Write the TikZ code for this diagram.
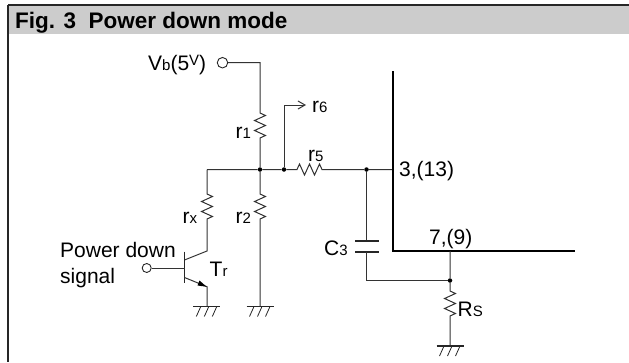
\documentclass[tikz,border=0pt]{standalone}
\usepackage{fontspec}
\setmainfont{Liberation Sans}
\usetikzlibrary{arrows.meta}
\tikzset{
  wire/.style={line width=1pt,draw=black!80},
  heavy/.style={line width=2.3pt,draw=black},
  dotn/.style={circle,fill=black,inner sep=0pt,minimum size=4.5pt},
  term/.style={circle,draw=black!85,fill=white,line width=0.9pt,inner sep=0pt},
  lab/.style={inner sep=0pt,font=\fontsize{21}{25}\selectfont},
}
\newcommand{\sm}[1]{{\fontsize{15}{17}\selectfont #1}}
\newcommand{\gnd}[1]{%
  \draw[line width=1.1pt,black!85] ([xshift=-13.5pt]#1) -- ([xshift=13.5pt]#1);
  \foreach \k in {-6,2,10}{\draw[line width=0.8pt,black!85] ([xshift=\k pt]#1) -- ([xshift=\k pt-4.5pt,yshift=-10pt]#1);}
}
\begin{document}
\begin{tikzpicture}[x=1pt,y=-1pt]
\useasboundingbox (0,0) rectangle (629,362);
\fill[white] (0,0) rectangle (629,362);
\fill[black!20] (8,5) rectangle (629,34);
\draw[line width=1.6pt,black!85] (8,5) -- (629,5);
\draw[line width=1.6pt,black!85] (8,5) -- (8,362);
\node[anchor=base west,inner sep=0pt,font=\fontsize{22.5}{26}\selectfont\bfseries] (title) at (15,28) {Fig. 3\hspace{0.278em} Power down mode};
% coordinates
\coordinate (vbw) at (260,62.7);
\node[term,minimum size=10.5pt] (vb) at (222.5,62.7) {};
\coordinate (r1t) at (260,113);
\node[dotn] (j1) at (260,169.5) {};
\node[dotn] (j2) at (284,169.5) {};
\node[dotn] (j3) at (366.5,169.5) {};
\node[dotn] (j4) at (450,280.5) {};
\coordinate (r6a) at (284,105);
\coordinate (r6e) at (306,105);
\coordinate (bar3) at (393,169.5);
\coordinate (barc) at (393,251);
\coordinate (bart) at (393,71);
\coordinate (barr) at (575,251);
\coordinate (bar7) at (450,251);
% wires
\draw[wire] (vb) -- (vbw) -- (r1t) -- ++(5.5,2.5) -- ++(-11,5) -- ++(11,5) -- ++(-11,5) -- ++(11,5) -- ++(-5.5,2.5) -- (j1);
\draw[wire] (j1) -- (260,194) -- ++(5.5,2.5) -- ++(-11,5) -- ++(11,5) -- ++(-11,5) -- ++(11,5) -- ++(-5.5,2.5) -- (260,306);
\draw[wire] (207,169.5) -- (j1) -- (j2) -- (297,169.5) -- ++(2.5,-5.5) -- ++(5,11) -- ++(5,-11) -- ++(5,11) -- ++(5,-11) -- ++(2.5,5.5) -- (j3) -- (bar3);
\draw[wire,-{Straight Barb[length=7pt,width=8pt]}] (j2) -- (r6a) -- (r6e);
\draw[wire] (207,169.5) -- (207,194) -- ++(5.5,2.5) -- ++(-11,5) -- ++(11,5) -- ++(-11,5) -- ++(11,5) -- ++(-5.5,2.5) -- (207,251) -- (184.5,260);
% transistor
\draw[line width=1.2pt,black!85] (184.5,251.7) -- (184.5,283.2);
\node[term,minimum size=9pt] (pd) at (146.7,268) {};
\draw[wire] (pd) -- (184.5,268);
\draw[wire] (184.5,277.5) -- (207,286.7) -- (207,306);
\fill[black] (206.5,286.7) -- (197.5,285.5) -- (199.5,280.5) -- cycle;
\coordinate (g1) at (206.8,306.5);
\coordinate (g2) at (260,306.5);
\gnd{g1}
\gnd{g2}
% capacitor
\draw[wire] (j3) -- (366.5,241);
\draw[line width=1.3pt,black!85] (355,241) -- (379,241);
\draw[line width=1.3pt,black!85] (355,252) -- (379,252);
\draw[wire] (366.5,252) -- (366.5,280.5) -- (j4);
% heavy
\draw[heavy] (bart) -- (barc) -- (barr);
% Rs
\draw[wire] (bar7) -- (j4) -- (450,291) -- ++(5.5,2.5) -- ++(-11,5) -- ++(11,5) -- ++(-11,5) -- ++(11,5) -- ++(-5.5,2.5) -- (450,346);
\coordinate (g3) at (450,346);
\gnd{g3}
% labels
\node[lab,anchor=base west] (lv) at (148,70.5) {V\sm{b}(5\raisebox{5.5pt}{\sm{V}})};
\node[lab,anchor=base west] (lr1) at (235.5,138) {r\sm{1}};
\node[lab,anchor=base west] (lr6) at (312,112.7) {r\sm{6}};
\node[lab,anchor=base west] (lr5) at (308,161) {r\sm{5}};
\node[lab,anchor=base west] (lrx) at (182.5,223) {r\sm{x}};
\node[lab,anchor=base west] (lr2) at (235.5,223) {r\sm{2}};
\node[lab,anchor=base west] (lpd1) at (60,257.7) {Power down};
\node[lab,anchor=base west] (lpd2) at (60,283) {signal};
\node[lab,anchor=base west] (ltr) at (209.5,276.7) {T\sm{r}};
\node[lab,anchor=base west] (l3) at (399,176.7) {3,(13)};
\node[lab,anchor=base west] (l7) at (429,244) {7,(9)};
\node[lab,anchor=base west] (lc3) at (324,255) {C\sm{3}};
\node[lab,anchor=base west] (lrs) at (457.5,316) {R\sm{S}};
\end{tikzpicture}
\end{document}
